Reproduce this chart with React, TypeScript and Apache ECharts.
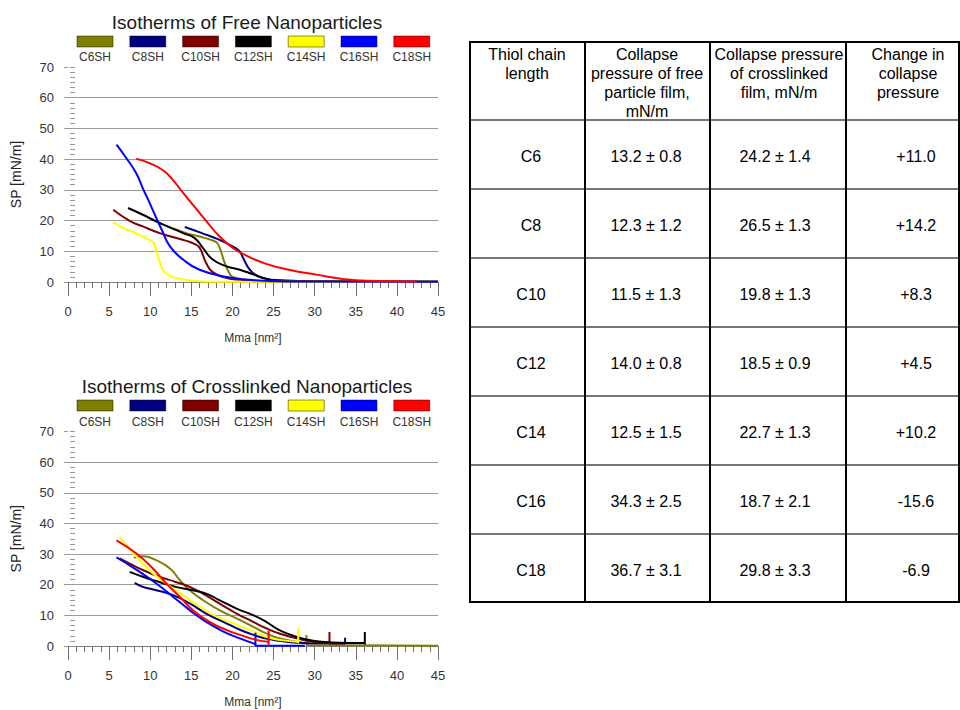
import React, { useEffect, useRef } from 'react';
import * as echarts from 'echarts';

const FONT = "'Liberation Sans', Arial, Helvetica, sans-serif";

// ---- series meta ----
const seriesNames = ['C6SH', 'C8SH', 'C10SH', 'C12SH', 'C14SH', 'C16SH', 'C18SH'];
const seriesColors = ['#808000', '#000080', '#800000', '#000000', '#ffff00', '#0000ff', '#ff0000'];

// ---- axes ----
const xMin = 0, xMax = 45, xStep = 5;
const yMin = 0, yMax = 70, yStep = 10;
const xAxisName = 'Mma [nm²]';
const yAxisName = 'SP [mN/m]';
const titles = ['Isotherms of Free Nanoparticles', 'Isotherms of Crosslinked Nanoparticles'];

// ---- free nanoparticles isotherms [Mma, SP] ----
const freeC6 = [[12.0, 18.1], [13.2, 17.0], [14.4, 15.9], [16.0, 14.8], [17.6, 13.5], [18.1, 12.8], [18.45, 11.1], [19.06, 6.2], [19.6, 3.0], [20.1, 1.6], [21.5, 0.8], [24.1, 0.3], [45, 0.1]];
const freeC8 = [[14.2, 17.9], [16.2, 16.0], [18.3, 13.9], [20.3, 11.2], [20.9, 9.9], [21.3, 7.8], [22.1, 4.0], [22.9, 2.2], [24.1, 1.1], [25.5, 0.6], [30.2, 0.2], [45, 0.1]];
const freeC10 = [[5.5, 23.5], [7.5, 19.9], [9.1, 18.1], [11.15, 15.9], [12.4, 14.9], [14.4, 13.4], [15.3, 12.5], [16.0, 11.2], [16.8, 6.2], [17.6, 3.2], [19.3, 1.3], [20.9, 0.7], [24.1, 0.2], [45, 0.1]];
const freeC12 = [[7.3, 24.1], [9.1, 21.9], [10.75, 19.7], [12.4, 17.8], [14.0, 15.9], [15.4, 14.3], [16.4, 11.1], [17.6, 7.3], [19.3, 5.1], [20.9, 4.0], [22.5, 2.5], [23.7, 1.3], [25.3, 0.5], [28.2, 0.2], [45, 0.1]];
const freeC14 = [[5.5, 19.4], [6.7, 17.6], [7.9, 16.3], [9.3, 14.5], [10.3, 13.0], [10.6, 11.5], [10.95, 8.3], [11.55, 4.0], [12.4, 2.1], [13.2, 1.3], [14.8, 0.5], [18.0, 0.1], [45, 0.05]];
const freeC16 = [[5.9, 44.7], [7.1, 40.3], [8.3, 35.4], [9.1, 30.5], [9.8, 26.5], [10.3, 23.5], [11.4, 17.0], [12.4, 11.6], [14.0, 7.3], [16.0, 4.0], [19.3, 1.6], [22.1, 0.7], [26.5, 0.2], [45, 0.05]];
const freeC18 = [[8.3, 40.1], [9.9, 38.7], [11.6, 36.3], [12.8, 33.1], [14.0, 29.0], [15.6, 23.8], [16.8, 19.9], [18.4, 14.9], [20.1, 11.0], [21.7, 8.6], [24.1, 5.9], [27.0, 3.9], [30.2, 2.4], [33.4, 1.0], [36.3, 0.4], [42.4, 0.2]];

// ---- crosslinked nanoparticles isotherms [Mma, SP] ----
const crossC6 = [[8.0, 28.8], [9.1, 29.3], [10.74, 28.0], [12.4, 25.3], [13.6, 21.5], [14.8, 18.2], [16.4, 15.0], [18.4, 11.7], [20.5, 9.0], [22.5, 6.3], [24.1, 4.1], [25.7, 2.5], [27.8, 1.4], [29.0, 0.9]];
const crossC8 = [[8.11, 20.6], [9.1, 19.3], [10.74, 18.2], [12.77, 16.6], [14.8, 13.9], [16.8, 10.6], [18.9, 7.9], [20.9, 5.3], [22.9, 3.3], [24.1, 2.4], [25.7, 1.7], [27.8, 1.1], [30.5, 0.9], [33.7, 0.9]];
const crossC10 = [[6.29, 28.6], [7.5, 26.9], [9.1, 24.8], [11.1, 22.6], [13.1, 20.9], [14.8, 19.3], [16.4, 17.1], [18.4, 13.9], [20.5, 10.6], [22.5, 7.9], [24.1, 5.8], [25.7, 4.1], [27.8, 2.5], [29.8, 1.4], [31.8, 1.1]];
const crossC12 = [[7.5, 24.2], [9.1, 22.6], [11.1, 20.9], [13.1, 19.3], [15.2, 18.2], [16.8, 17.1], [18.4, 15.0], [20.5, 12.2], [22.5, 10.1], [24.1, 7.9], [25.7, 5.2], [27.8, 3.0], [29.8, 1.7], [31.8, 1.2], [34.0, 1.0], [36.1, 1.0]];
const crossC14 = [[6.29, 35.6], [7.5, 31.8], [8.72, 28.0], [10.33, 23.7], [11.96, 20.4], [13.99, 16.6], [16.0, 12.8], [18.05, 9.6], [20.1, 7.4], [22.1, 5.2], [24.1, 3.0], [25.7, 2.0], [28.0, 1.4]];
const crossC16 = [[5.89, 28.9], [7.1, 27.0], [8.72, 24.2], [10.74, 20.4], [12.77, 16.1], [14.8, 11.7], [16.8, 7.9], [18.9, 4.7], [20.9, 2.5], [22.8, 0.6]];
const crossC18 = [[5.89, 34.5], [8.32, 30.2], [10.33, 25.3], [11.96, 20.4], [13.58, 16.1], [15.2, 11.7], [17.2, 7.9], [19.3, 5.2], [21.3, 3.3], [22.9, 2.0], [24.4, 1.4]];

// collapse-onset spikes and tails of the crosslinked traces
const crossC6Tail = [[29.0, 0.9], [29.0, 3.6], [29.0, 0.3], [45, 0.1]];
const crossC8Tail = [[33.7, 0.9], [33.7, 2.7], [33.7, 0.8]];
const crossC10Tail = [[31.8, 1.1], [31.8, 4.6], [31.8, 0.8], [33.7, 0.8]];
const crossC12Tail = [[36.1, 1.0], [36.1, 4.6], [36.1, 0.5]];
const crossC14Tail = [[28.0, 1.4], [28.0, 5.9], [28.0, 0.9]];
const crossC16Tail = [[22.8, 0.6], [22.8, 4.3], [22.8, 0.1], [28.8, 0.1]];
const crossC18Tail = [[24.4, 1.4], [24.4, 5.0], [24.4, 0.1]];

const freeData = [freeC6, freeC8, freeC10, freeC12, freeC14, freeC16, freeC18];
const crossData = [crossC6, crossC8, crossC10, crossC12, crossC14, crossC16, crossC18];
const crossTails = [crossC6Tail, crossC8Tail, crossC10Tail, crossC12Tail, crossC14Tail, crossC16Tail, crossC18Tail];

// ---- table ----
const tableHeaders = [
  ['Thiol chain', 'length'],
  ['Collapse', 'pressure of free', 'particle film,', 'mN/m'],
  ['Collapse pressure', 'of crosslinked', 'film, mN/m'],
  ['Change in', 'collapse', 'pressure'],
];
const thiolChains = ['C6', 'C8', 'C10', 'C12', 'C14', 'C16', 'C18'];
const freeCollapse = [13.2, 12.3, 11.5, 14.0, 12.5, 34.3, 36.7];
const freeCollapseErr = [0.8, 1.2, 1.3, 0.8, 1.5, 2.5, 3.1];
const crossCollapse = [24.2, 26.5, 19.8, 18.5, 22.7, 18.7, 29.8];
const crossCollapseErr = [1.4, 1.3, 1.3, 0.9, 1.3, 2.1, 3.3];
const collapseChange = [11.0, 14.2, 8.3, 4.5, 10.2, -15.6, -6.9];

function buildOption() {
  const panels = [
    { top: 67, height: 215, titleY: 22, legendTop: 36, legendLabelY: 57, main: freeData, tails: null as null | number[][][] },
    { top: 431.5, height: 214.5, titleY: 386, legendTop: 400, legendLabelY: 421.5, main: crossData, tails: crossTails },
  ];
  const gridLeft = 68, gridWidth = 370;

  const grid: any[] = [];
  const xAxis: any[] = [];
  const yAxis: any[] = [];
  const series: any[] = [];
  const graphic: any[] = [];

  panels.forEach((p, g) => {
    grid.push({ left: gridLeft, top: p.top, width: gridWidth, height: p.height, outerBoundsMode: 'none', containLabel: false });
    xAxis.push({
      type: 'value', gridIndex: g, min: xMin, max: xMax, interval: xStep,
      axisLine: { show: true, onZero: false, lineStyle: { color: '#808080', width: 1 } },
      axisTick: { show: true, length: 14, lineStyle: { color: '#707070', width: 1 } },
      minorTick: { show: true, splitNumber: 5, length: 6, lineStyle: { color: '#707070', width: 1 } },
      axisLabel: { margin: 23, fontSize: 13, color: '#333', fontFamily: FONT },
      splitLine: { show: false },
      name: xAxisName, nameLocation: 'middle', nameGap: 50,
      nameTextStyle: { fontSize: 12, color: '#333', fontFamily: FONT },
    });
    yAxis.push({
      type: 'value', gridIndex: g, min: yMin, max: yMax, interval: yStep,
      axisLine: { show: false },
      axisTick: { show: true, length: 4, lineStyle: { color: '#999', width: 1 } },
      axisLabel: { margin: 14, fontSize: 13, color: '#333', fontFamily: FONT },
      splitLine: { show: true, showMinLine: false, showMaxLine: false, lineStyle: { color: '#9a9a9a', width: 1 } },
      name: yAxisName, nameLocation: 'middle', nameGap: 45,
      nameTextStyle: { fontSize: 14, color: '#222', fontFamily: FONT },
    });
    yAxis.push({
      type: 'value', gridIndex: g, min: yMin, max: yMax, interval: yStep,
      position: 'left', offset: -2,
      axisLine: { show: false },
      axisTick: { show: true, inside: true, length: 5, lineStyle: { color: '#999', width: 1 } },
      minorTick: { show: true, splitNumber: 6, length: 5, lineStyle: { color: '#999', width: 1 } },
      axisLabel: { show: false },
      splitLine: { show: false },
    });

    p.main.forEach((d, i) => {
      series.push({
        type: 'line', name: seriesNames[i], xAxisIndex: g, yAxisIndex: g * 2,
        data: d, smooth: 0.5, showSymbol: false, symbol: 'none',
        lineStyle: { color: seriesColors[i], width: 2 }, itemStyle: { color: seriesColors[i] },
        z: 3 + i,
      });
      if (p.tails) {
        series.push({
          type: 'line', name: seriesNames[i] + ' tail', xAxisIndex: g, yAxisIndex: g * 2,
          data: p.tails[i], smooth: false, showSymbol: false, symbol: 'none',
          lineStyle: { color: seriesColors[i], width: 2 }, itemStyle: { color: seriesColors[i] },
          z: 3 + i,
        });
      }
    });

    // title
    graphic.push({
      type: 'text', x: 247, y: p.titleY,
      style: { text: titles[g], fontSize: 19, fill: '#1a1a1a', align: 'center', verticalAlign: 'middle', fontFamily: FONT },
    });
    // legend
    seriesNames.forEach((n, i) => {
      const cx = 95 + i * 52.8;
      graphic.push({
        type: 'rect', shape: { x: cx - 18, y: p.legendTop, width: 36, height: 11 },
        style: { fill: seriesColors[i], stroke: 'rgba(0,0,0,0.45)', lineWidth: 1 },
      });
      graphic.push({
        type: 'text', x: cx, y: p.legendLabelY,
        style: { text: n, fontSize: 12, fill: '#333', align: 'center', verticalAlign: 'middle', fontFamily: FONT },
      });
    });
  });

  // ---- table ----
  const colEdges = [470, 585, 710, 846, 959];
  const rowEdges = [42, 120, 189, 258, 327, 396, 465, 534, 602];
  const headerCenters = [527, 647, 779, 908];
  const bodyCenters = [531, 646, 775, 916];
  rowEdges.forEach((y, k) => {
    const outer = k === 0 || k === rowEdges.length - 1;
    graphic.push({
      type: 'line', shape: { x1: colEdges[0] - 1, y1: y, x2: colEdges[colEdges.length - 1] + 1, y2: y },
      style: { stroke: outer ? '#000' : '#777', lineWidth: 2 },
    });
  });
  colEdges.forEach((x) => {
    graphic.push({
      type: 'line', shape: { x1: x, y1: rowEdges[0], x2: x, y2: rowEdges[rowEdges.length - 1] },
      style: { stroke: '#000', lineWidth: 2 },
    });
  });
  tableHeaders.forEach((lines, c) => {
    graphic.push({
      type: 'text', x: headerCenters[c], y: 45,
      style: { text: lines.join('\n'), fontSize: 16, lineHeight: 19, fill: '#000', align: 'center', verticalAlign: 'top', fontFamily: FONT },
    });
  });
  const fmtPM = (m: number, e: number) => `${m.toFixed(1)} ± ${e.toFixed(1)}`;
  const fmtSigned = (v: number) => (v > 0 ? '+' : '') + v.toFixed(1);
  thiolChains.forEach((ch, r) => {
    const cy = (rowEdges[r + 1] + rowEdges[r + 2]) / 2 + 2;
    const cells = [ch, fmtPM(freeCollapse[r], freeCollapseErr[r]), fmtPM(crossCollapse[r], crossCollapseErr[r]), fmtSigned(collapseChange[r])];
    cells.forEach((t, c) => {
      graphic.push({
        type: 'text', x: bodyCenters[c], y: cy,
        style: { text: t, fontSize: 16, fill: '#000', align: 'center', verticalAlign: 'middle', fontFamily: FONT },
      });
    });
  });

  return {
    animation: false,
    backgroundColor: '#ffffff',
    textStyle: { fontFamily: FONT },
    grid, xAxis, yAxis, series, graphic,
  };
}

export default function App() {
  const ref = useRef<HTMLDivElement>(null);
  useEffect(() => {
    if (!ref.current) return;
    const chart = echarts.init(ref.current, null, { renderer: 'svg' });
    chart.setOption(buildOption() as any);
    return () => chart.dispose();
  }, []);
  return (
    <div
      ref={ref}
      style={{ position: 'fixed', left: 0, top: 0, width: 960, height: 710, background: '#fff' }}
    />
  );
}
